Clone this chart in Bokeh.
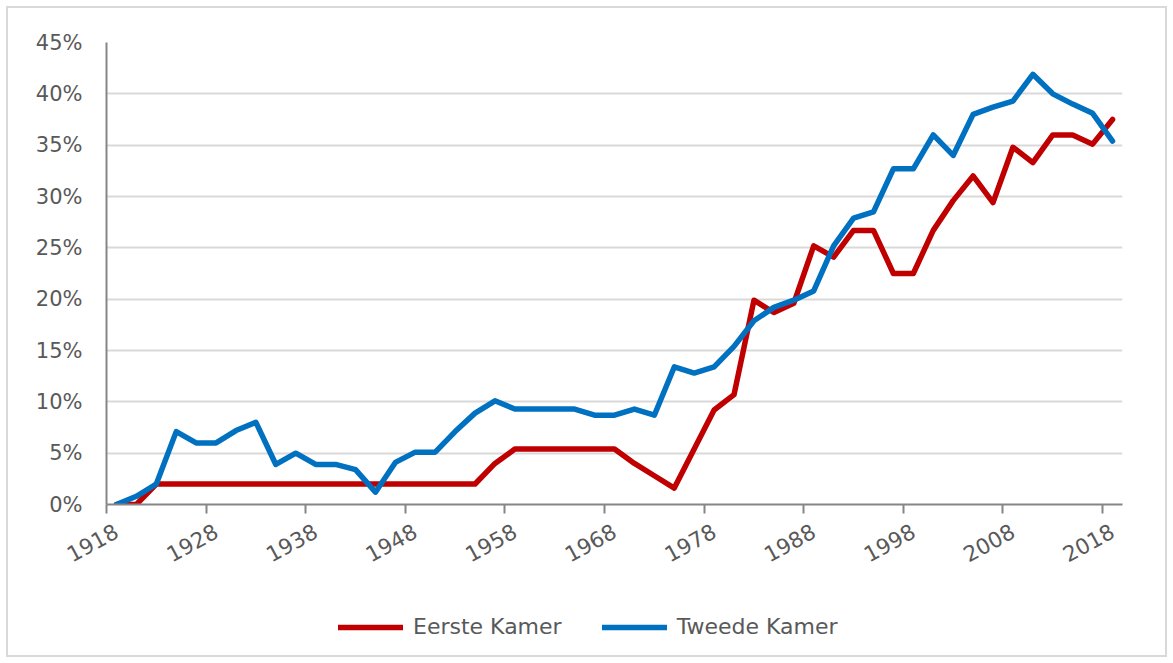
from bokeh.plotting import figure
from bokeh.layouts import column
from bokeh.models import Range1d, FixedTicker, Legend, LegendItem, ColumnDataSource
from bokeh.embed import file_html
from bokeh.resources import INLINE

# Categories: one every two years (51 categories)
years = list(range(1918, 2019, 2))

# Share of women (%) - Eerste Kamer
eerste = [0.0, 0.0, 2.0, 2.0, 2.0, 2.0, 2.0, 2.0, 2.0, 2.0,
          2.0, 2.0, 2.0, 2.0, 2.0, 2.0, 2.0, 2.0, 2.0, 4.0,
          5.4, 5.4, 5.4, 5.4, 5.4, 5.4, 4.0, 2.8, 1.6, 5.4,
          9.2, 10.7, 19.9, 18.7, 19.6, 25.2, 24.1, 26.7, 26.7, 22.5,
          22.5, 26.7, 29.6, 32.0, 29.4, 34.8, 33.3, 36.0, 36.0, 35.1,
          37.5]

# Share of women (%) - Tweede Kamer
tweede = [0.0, 0.8, 2.0, 7.1, 6.0, 6.0, 7.2, 8.0, 3.9, 5.0,
          3.9, 3.9, 3.4, 1.2, 4.1, 5.1, 5.1, 7.1, 8.9, 10.1,
          9.3, 9.3, 9.3, 9.3, 8.7, 8.7, 9.3, 8.7, 13.4, 12.8,
          13.4, 15.4, 17.9, 19.2, 19.9, 20.8, 25.2, 27.9, 28.5, 32.7,
          32.7, 36.0, 34.0, 38.0, 38.7, 39.3, 41.9, 40.0, 39.0, 38.1,
          35.4]

label_years = [1918, 1928, 1938, 1948, 1958, 1968, 1978, 1988, 1998, 2008, 2018]
y_ticks = [0, 5, 10, 15, 20, 25, 30, 35, 40, 45]
series_names = ["Eerste Kamer", "Tweede Kamer"]

RED = "#C00000"
BLUE = "#0070C0"
AXIS = "#868686"
GRID = "#D9D9D9"
TXT = "#595959"
FONT = "DejaVu Sans"

# category centres (band layout, one unit per category)
xpos = [i + 0.5 for i in range(len(years))]
src = ColumnDataSource(dict(x=xpos, year=years, eerste=eerste, tweede=tweede))

p = figure(frame_width=1016, frame_height=462,
           x_range=Range1d(0, len(years)), y_range=Range1d(0, 45),
           output_backend="svg", toolbar_location=None,
           min_border_left=98, min_border_right=43, min_border_top=34,
           min_border_bottom=70)
p.outline_line_color = None
p.background_fill_color = "white"
p.border_fill_color = "white"

r1 = p.line("x", "eerste", source=src, line_color=RED, line_width=5.5,
            line_join="round", line_cap="round")
r2 = p.line("x", "tweede", source=src, line_color=BLUE, line_width=5.5,
            line_join="round", line_cap="round")

# x axis: labels on category centres, tick marks at band boundaries
label_pos = [years.index(y) + 0.5 for y in label_years]
tick_pos = [years.index(y) for y in label_years]
xa = p.xaxis[0]
xa.ticker = FixedTicker(ticks=label_pos, minor_ticks=tick_pos)
xa.major_label_overrides = {pos: str(y) for pos, y in zip(label_pos, label_years)}
xa.major_tick_line_color = None
xa.major_tick_out = 0
xa.major_tick_in = 0
xa.minor_tick_line_color = AXIS
xa.minor_tick_line_width = 2
xa.minor_tick_out = 9
xa.minor_tick_in = 0
xa.axis_line_color = AXIS
xa.axis_line_width = 2
xa.major_label_orientation = 0.5
xa.major_label_standoff = 16
xa.major_label_text_font = FONT
xa.major_label_text_font_size = "21.5px"
xa.major_label_text_color = TXT

ya = p.yaxis[0]
ya.ticker = FixedTicker(ticks=y_ticks)
ya.major_label_overrides = {t: f"{t}%" for t in y_ticks}
ya.major_tick_line_color = None
ya.major_tick_out = 0
ya.major_tick_in = 0
ya.minor_tick_line_color = None
ya.axis_line_color = AXIS
ya.axis_line_width = 2
ya.major_label_standoff = 24
ya.major_label_text_font = FONT
ya.major_label_text_font_size = "21px"
ya.major_label_text_color = TXT

p.xgrid.grid_line_color = None
p.ygrid.ticker = FixedTicker(ticks=y_ticks[1:])
p.ygrid.grid_line_color = GRID
p.ygrid.grid_line_width = 2

# legend strip below the chart (its frame lines up with the chart's frame)
lg = figure(width=1157, height=81, x_range=Range1d(0, 1), y_range=Range1d(1000, 1001),
            output_backend="svg", toolbar_location=None,
            x_axis_location=None, y_axis_location=None,
            min_border_left=0, min_border_right=0,
            min_border_top=0, min_border_bottom=0)
lg.grid.visible = False
lg.outline_line_color = None
lg.background_fill_color = "white"
lg.border_fill_color = "white"
# same series, kept out of view: only their legend glyphs show
l1 = lg.line("x", "eerste", source=src, line_color=RED, line_width=5.5, line_cap="round")
l2 = lg.line("x", "tweede", source=src, line_color=BLUE, line_width=5.5, line_cap="round")

legend = Legend(items=[LegendItem(label=series_names[0], renderers=[l1]),
                       LegendItem(label=series_names[1], renderers=[l2])],
                orientation="horizontal", location=(232, 16),
                border_line_color=None, background_fill_alpha=0,
                glyph_width=65, glyph_height=24, label_standoff=10,
                spacing=40, padding=0, margin=0,
                label_text_font=FONT, label_text_font_size="22px",
                label_text_color=TXT)
lg.add_layout(legend, "center")

layout = column(p, lg, spacing=0,
                styles={"margin": "8px", "outline": "2px solid #D9D9D9"})

open("out.html", "w").write(file_html(layout, INLINE))
